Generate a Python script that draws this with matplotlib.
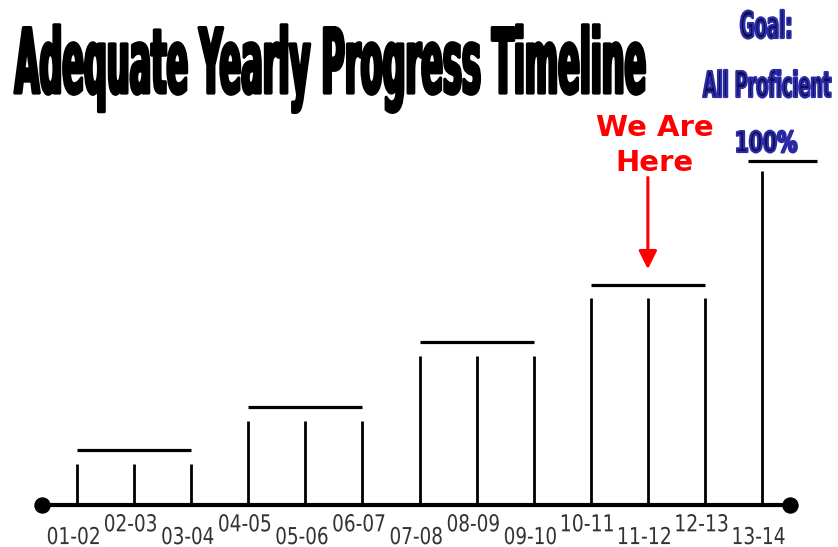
import numpy as np
import matplotlib
matplotlib.use("Agg")
import matplotlib.pyplot as plt
from matplotlib.patheffects import AbstractPathEffect
from matplotlib.transforms import Affine2D
from matplotlib.textpath import TextPath
from matplotlib.font_manager import FontProperties

# ---------------- data ----------------
years = ["01-02", "02-03", "03-04", "04-05", "05-06", "06-07", "07-08",
         "08-09", "09-10", "10-11", "11-12", "12-13", "13-14"]
step_heights = [12.0, 12.0, 12.0, 24.5, 24.5, 24.5, 43.4, 43.4, 43.4,
                60.2, 60.2, 60.2, 97.1]          # % proficient required
target_levels = [16.1, 28.6, 47.5, 64.0]          # level bars over each 3-year group
group_size = 3
goal_level = 100
current_year = "11-12"
title = "Adequate Yearly Progress Timeline"
goal_lines = ["Goal:", "All Proficient", "100%"]

# ---------------- helpers ----------------
W, H, DPI = 838, 547, 100


class Stretch(AbstractPathEffect):
    """Draw text glyphs stretched about their ink centre / baseline."""

    def __init__(self, sx=1.0, sy=1.0, lw=0.0, edge=None):
        super().__init__()
        self.sx, self.sy, self.lw, self.edge = sx, sy, lw, edge

    def draw_path(self, renderer, gc, tpath, affine, rgbFace=None):
        ext = tpath.get_extents()
        cx = 0.5 * (ext.x0 + ext.x1)
        pre = Affine2D().translate(-cx, 0).scale(self.sx, self.sy).translate(cx, 0)
        gc0 = renderer.new_gc()
        gc0.copy_properties(gc)
        if self.lw > 0:
            gc0.set_linewidth(self.lw)
            gc0.set_foreground(self.edge if self.edge is not None else rgbFace)
            gc0.set_joinstyle("round")
        renderer.draw_path(gc0, tpath, pre + affine, rgbFace)
        gc0.restore()


def fitted_text(ax, x, y, s, width_px, cap_px, color, transform,
                family="DejaVu Sans", weight="normal", lw_px=0.0, edge=None,
                sx=1.0, zorder=5):
    fp = FontProperties(family=family, weight=weight, size=100)
    ext = TextPath((0, 0), s, prop=fp).get_extents()
    ink_w = ext.width / 100.0
    cap = TextPath((0, 0), "H", prop=fp).get_extents().y1 / 100.0
    em_px = (width_px - lw_px) / (ink_w * sx)
    sy = (cap_px - lw_px / 2.0) / (cap * em_px)
    fs_pt = em_px * 72.0 / DPI
    return ax.text(x, y, s, ha="center", va="baseline", fontsize=fs_pt,
                   family=family, weight=weight, color=color,
                   transform=transform, zorder=zorder,
                   path_effects=[Stretch(sx, sy, lw_px * 72.0 / DPI, edge)])


# ---------------- figure ----------------
fig = plt.figure(figsize=(W / DPI, H / DPI), dpi=DPI)
fig.patch.set_facecolor("white")
ax = fig.add_axes([0, 0, 1, 1])
ax.set_axis_off()

n = len(years)
x = np.arange(n)
ax.set_xlim(-1.349, 13.331)
ax.set_ylim(-12.05, 146.73)

# timeline baseline with end dots
ax.plot([x[0] - 0.61, x[-1] + 0.49], [0, 0], color="black", lw=3.0,
        solid_capstyle="butt", zorder=3)
ax.plot([x[0] - 0.61, x[-1] + 0.49], [0, 0], "o", color="black",
        markersize=10.8, zorder=4)

# yearly steps
ax.vlines(x, 0, step_heights, color="black", lw=2.0, zorder=2)

# target level bars over each group
for g, lvl in enumerate(target_levels):
    i0, i1 = g * group_size, g * group_size + group_size - 1
    ax.hlines(lvl, x[i0], x[i1], color="black", lw=2.3, zorder=2)

# goal bar
ax.hlines(goal_level, x[-1] - 0.245, x[-1] + 0.963, color="black", lw=2.3, zorder=2)

# year labels, alternating low/high
for i, lab in enumerate(years):
    yy = -11.2 if i % 2 == 0 else -7.5
    fitted_text(ax, x[i] - 0.06, yy, lab, 51, 17, "#333333", ax.transData,
                sx=1.3)

# "We Are Here" marker
ci = years.index(current_year)
cur_lvl = target_levels[ci // group_size]
ax.annotate("", xy=(x[ci], cur_lvl + 4.6), xytext=(x[ci], cur_lvl + 31.2),
            arrowprops=dict(arrowstyle="-|>,head_length=1.1,head_width=0.55",
                            color="#ff0000", lw=2.2, shrinkA=0, shrinkB=0),
            zorder=6)
ax.text(x[ci] + 0.12, cur_lvl + 43.3, "We Are", ha="center", va="baseline",
        fontsize=21, weight="bold", color="#ff0000", family="DejaVu Sans")
ax.text(x[ci] + 0.12, cur_lvl + 33.1, "Here", ha="center", va="baseline",
        fontsize=21, weight="bold", color="#ff0000", family="DejaVu Sans")

# title (figure pixel layout)
figpx = fig.transFigure
fitted_text(fig, 330.5 / W, 1 - 93 / H, title, 633, 67, "black", figpx,
            weight="bold", lw_px=3.2, edge="black")

# goal text
navy, navy_edge = "#0c0c4a", "#2c2ca8"
fitted_text(fig, 766 / W, 1 - 38 / H, goal_lines[0], 52, 28, navy, figpx,
            weight="bold", lw_px=2.2, edge=navy_edge)
fitted_text(fig, 767 / W, 1 - 97 / H, goal_lines[1], 130, 27, navy, figpx,
            weight="bold", lw_px=2.2, edge=navy_edge)
fitted_text(fig, 766 / W, 1 - 152 / H, goal_lines[2], 62, 22, navy, figpx,
            weight="bold", lw_px=2.2, edge=navy_edge)

fig.savefig("out.png", dpi=DPI, facecolor="white")
